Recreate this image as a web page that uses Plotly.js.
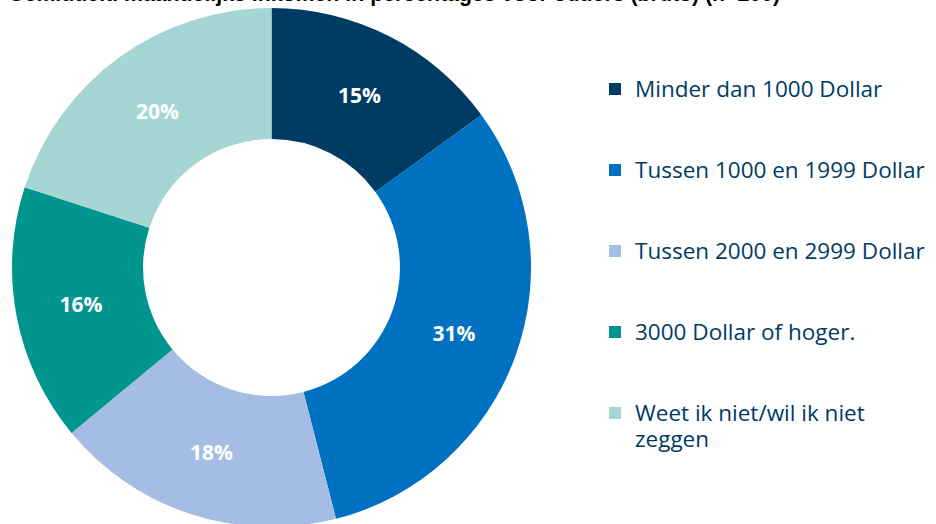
<!DOCTYPE html>
<html>
<head>
<meta charset="utf-8">
<script src="https://cdn.plot.ly/plotly-3.0.1.min.js"></script>
<style>html,body{margin:0;padding:0;overflow:hidden;background:#fff}</style>
</head>
<body>
<div id="chart" style="width:936px;height:527px"></div>
<script>
const categories = [
  "Minder dan 1000 Dollar",
  "Tussen 1000 en 1999 Dollar",
  "Tussen 2000 en 2999 Dollar",
  "3000 Dollar of hoger.",
  "Weet ik niet/wil ik niet<br>zeggen"
];
const values = [15, 31, 18, 16, 20];
const colors = ["#003b63", "#0070c0", "#a5bde3", "#00968f", "#a6d6d3"];
const titleText = "Gemiddeld maandelijks inkomen in percentages voor ouders (bruto) (n=200)";

const W = 936, H = 527;
const cx = 271.5, r = 259.5;
const big = s => s.split("<br>").map(p => '<span style="font-size:22.5px">' + p + '</span>').join("<br>");
const labels = categories.map((c, i) => i < categories.length - 1 ? big(c) + "<br> <br> " : big(c));

const data = [{
  type: "pie",
  labels: labels,
  values: values,
  hole: 0.495,
  sort: false,
  direction: "clockwise",
  rotation: 0,
  marker: {colors: colors, line: {width: 0}},
  texttemplate: "%{percent:.0%}",
  textposition: "inside",
  insidetextorientation: "horizontal",
  textfont: {family: "Open Sans", size: 21, color: "#ffffff", weight: "bold"},
  hoverinfo: "none",
  domain: {x: [(cx - r) / W, (cx + r) / W], y: [0, 2 * r / H]}
}];

const layout = {
  width: W, height: H,
  margin: {l: 0, r: 0, t: 0, b: 0, autoexpand: false},
  paper_bgcolor: "#ffffff",
  showlegend: true,
  title: {
    text: "<b>" + titleText + "</b>",
    x: 8 / W, xanchor: "left", xref: "container",
    y: 1 - 1 / H, yanchor: "bottom", yref: "container",
    font: {family: "Liberation Sans", size: 21.3, color: "#000000"}
  },
  legend: {
    x: 595 / W, xanchor: "left", xref: "container",
    y: 1 - 69.5 / H, yanchor: "top", yref: "container",
    valign: "top",
    maxheight: 500,
    font: {family: "Open Sans", size: 20, color: "#003b63"},
    traceorder: "normal",
    bgcolor: "rgba(0,0,0,0)"
  }
};

Plotly.newPlot("chart", data, layout, {displayModeBar: false, staticPlot: true});
</script>
</body>
</html>
